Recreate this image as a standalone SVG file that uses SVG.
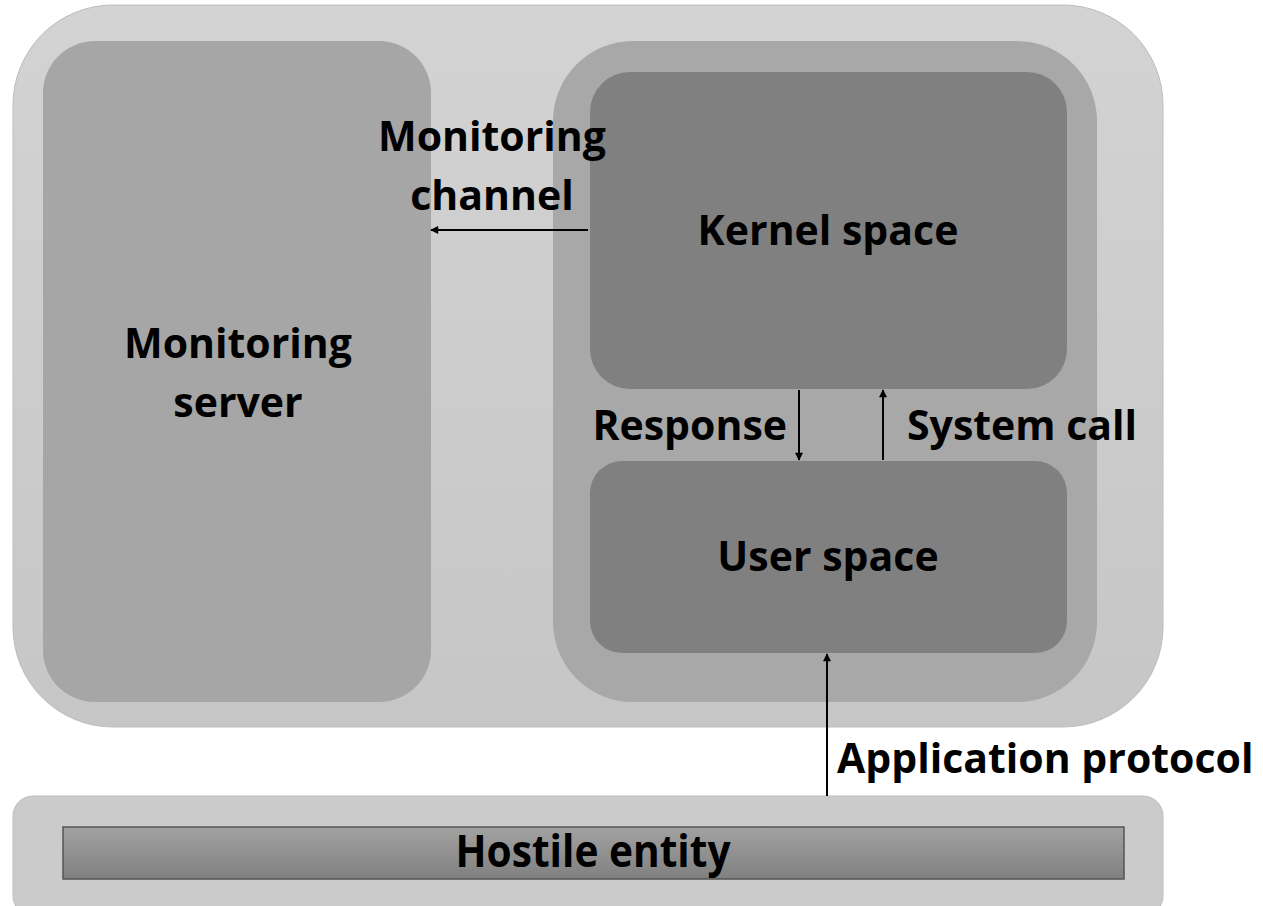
<svg xmlns="http://www.w3.org/2000/svg" width="1263" height="906" viewBox="0 0 1263 906">
  <defs>
    <linearGradient id="outerFill" x1="0" y1="0" x2="0" y2="1">
      <stop offset="0" stop-color="#d3d3d3"/>
      <stop offset="1" stop-color="#c6c6c6"/>
    </linearGradient>
    <linearGradient id="barFill" x1="0" y1="0" x2="0" y2="1">
      <stop offset="0" stop-color="#a2a2a2"/>
      <stop offset="1" stop-color="#808080"/>
    </linearGradient>
    <marker id="arrow" viewBox="0 0 10 10" refX="9" refY="5" markerWidth="9" markerHeight="8" orient="auto-start-reverse" markerUnits="userSpaceOnUse">
      <path d="M0,0 L10,5 L0,10 Z" fill="#000"/>
    </marker>
  </defs>
  <style>
    text { font-family: "Open Sans", "Liberation Sans", sans-serif; font-weight: 700; fill: #000; }
    .lbl { font-size: 41px; }
    .conn { stroke: #000; stroke-width: 2; fill: none; marker-end: url(#arrow); }
  </style>

  <rect width="1263" height="906" fill="#ffffff"/>

  <g id="host">
    <rect x="13" y="5" width="1150" height="722" rx="100" ry="100" fill="url(#outerFill)" stroke="#bdbdbd" stroke-width="1"/>
  </g>

  <g id="monitoring-server">
    <rect x="43" y="41" width="388" height="661" rx="52" ry="52" fill="#a6a6a6"/>
    <text class="lbl" x="238" y="358" text-anchor="middle">Monitoring</text>
    <text class="lbl" x="238" y="417" text-anchor="middle">server</text>
  </g>

  <g id="monitored-system">
    <rect x="553" y="41" width="544" height="661" rx="80" ry="80" fill="#a8a8a8"/>
  </g>

  <g id="kernel-space">
    <rect x="590" y="72" width="477" height="317" rx="40" ry="40" fill="#808080"/>
    <text class="lbl" x="828" y="245" text-anchor="middle">Kernel space</text>
  </g>

  <g id="user-space">
    <rect x="590" y="461" width="477" height="192" rx="32" ry="32" fill="#808080"/>
    <text class="lbl" x="828" y="571" text-anchor="middle">User space</text>
  </g>

  <g id="hostile-entity">
    <rect x="13" y="796" width="1150" height="120" rx="20" ry="20" fill="#cbcbcb" stroke="#bdbdbd" stroke-width="1"/>
    <rect x="63" y="827" width="1061" height="52" fill="url(#barFill)" stroke="#555" stroke-width="1.5"/>
    <text x="593" y="867" text-anchor="middle" font-size="44" textLength="275" lengthAdjust="spacingAndGlyphs">Hostile entity</text>
  </g>

  <g id="connectors">
    <line class="conn" x1="588" y1="230" x2="431" y2="230"/>
    <line class="conn" x1="799" y1="390" x2="799" y2="460"/>
    <line class="conn" x1="883" y1="460" x2="883" y2="390"/>
    <line class="conn" x1="827" y1="796" x2="827" y2="654"/>
  </g>

  <g id="labels">
    <text class="lbl" x="492" y="151" text-anchor="middle">Monitoring</text>
    <text class="lbl" x="492" y="210" text-anchor="middle">channel</text>
    <text class="lbl" x="787" y="440" text-anchor="end">Response</text>
    <text class="lbl" x="907" y="440">System call</text>
    <text class="lbl" x="837" y="773">Application protocol</text>
  </g>
</svg>
